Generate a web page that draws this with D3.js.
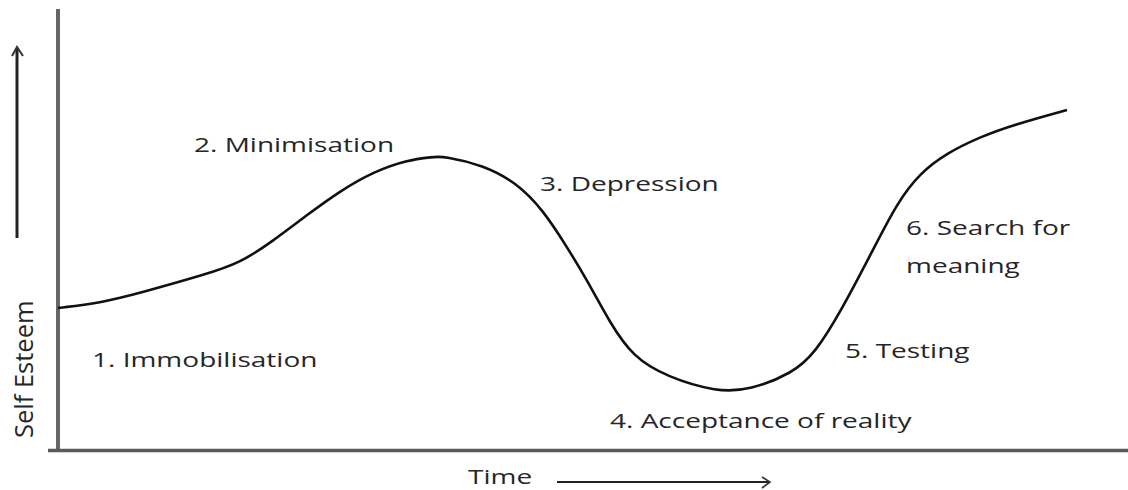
<!DOCTYPE html>
<html lang="en">
<head>
<meta charset="UTF-8">
<title>Change curve</title>
<style>
    body { margin: 0; background: #fff; }
    svg { display: block; }
    .label { font-family: "Open Sans", sans-serif; font-size: 20px; fill: #262626; }
</style>
</head>
<body>
<svg></svg>
<script src="https://cdn.jsdelivr.net/npm/d3@7"></script>
<script>
    // curve (time, self esteem)
    const timePts   = [0, 42, 82, 149, 182, 215, 249, 282, 315, 349, 375, 385, 425, 459, 485, 509, 529, 552, 575, 609, 659, 692, 735, 757, 782, 815, 839, 862, 889, 922, 955, 1009];
    const esteemPts = [142, 147, 157, 176, 187, 209, 235, 259, 278, 290, 293, 294, 285, 267, 240, 203, 170, 127, 93, 73, 58, 60, 77, 97, 137, 200, 247, 277, 297, 313, 325, 340];

    // stage labels and where they sit (same units as the curve)
    const stageNames  = ["1. Immobilisation", "2. Minimisation", "3. Depression", "4. Acceptance of reality", "5. Testing", "6. Search for|meaning"];
    const stageTime   = [34, 136, 482, 552, 787, 848];
    const stageEsteem = [83, 298, 259, 22, 92, 215];

    const width = 1128;
    const height = 490;
    const stretch = 1.4; // the original text is wide

    const x = d3.scaleLinear().domain([0, 1070]).range([58, 1128]);
    const y = d3.scaleLinear().domain([0, 441]).range([450, 9]);

    const svg = d3.select("svg")
        .attr("width", width)
        .attr("height", height);

    // axes, no ticks
    svg.append("line")
        .attr("x1", x(0)).attr("x2", x(0))
        .attr("y1", y(441)).attr("y2", y(-2))
        .attr("stroke", "#666").attr("stroke-width", 4);

    svg.append("line")
        .attr("x1", x(-10)).attr("x2", x(1070))
        .attr("y1", y(-0.5)).attr("y2", y(-0.5))
        .attr("stroke", "#5a5a5a").attr("stroke-width", 3.5);

    // the curve
    const points = timePts.map((t, i) => [t, esteemPts[i]]);
    const line = d3.line()
        .x(d => x(d[0]))
        .y(d => y(d[1]))
        .curve(d3.curveBasis);

    svg.append("path")
        .datum(points)
        .attr("fill", "none")
        .attr("stroke", "#111")
        .attr("stroke-width", 2.6)
        .attr("d", line);

    // stage labels
    const labels = svg.append("g").selectAll("text")
        .data(stageNames)
        .join("text")
        .attr("class", "label")
        .attr("transform", (d, i) => `translate(${x(stageTime[i])},${y(stageEsteem[i])}) scale(${stretch},1)`);

    labels.selectAll("tspan")
        .data(d => d.split("|"))
        .join("tspan")
        .attr("x", 0)
        .attr("dy", (d, i) => i ? 38 : 0)
        .text(d => d);

    // y axis title and arrow
    svg.append("text")
        .attr("class", "label")
        .attr("transform", "translate(33,438) rotate(-90)")
        .style("font-size", "25.5px")
        .text("Self Esteem");

    svg.append("line")
        .attr("x1", 17).attr("x2", 17)
        .attr("y1", 238).attr("y2", 48)
        .attr("stroke", "#222").attr("stroke-width", 3);
    svg.append("path")
        .attr("d", "M12,56 L17,47 L23,56")
        .attr("fill", "none").attr("stroke", "#333").attr("stroke-width", 2);

    // x axis title and arrow
    svg.append("text")
        .attr("class", "label")
        .attr("transform", `translate(468,484) scale(${stretch},1)`)
        .text("Time");

    svg.append("line")
        .attr("x1", 557).attr("x2", 770)
        .attr("y1", 482).attr("y2", 482)
        .attr("stroke", "#222").attr("stroke-width", 2);
    svg.append("path")
        .attr("d", "M762,477 L770,482 L762,488")
        .attr("fill", "none").attr("stroke", "#333").attr("stroke-width", 1.6);
</script>
</body>
</html>
